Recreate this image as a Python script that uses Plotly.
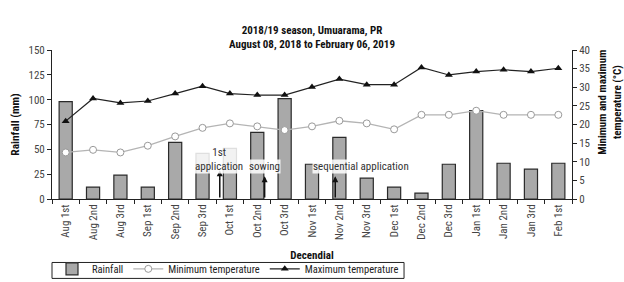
import plotly.graph_objects as go

categories = ["Aug 1st", "Aug 2nd", "Aug 3rd", "Sep 1st", "Sep 2nd", "Sep 3rd",
              "Oct 1st", "Oct 2nd", "Oct 3rd", "Nov 1st", "Nov 2nd", "Nov 3rd",
              "Dec 1st", "Dec 2nd", "Dec 3rd", "Jan 1st", "Jan 2nd", "Jan 3rd", "Feb 1st"]
rainfall = [98, 12, 24, 12, 57, 46, 51, 67, 101, 35, 62, 21, 12, 6, 35, 89, 36, 30, 36]
min_temp = [12.5, 13.2, 12.5, 14.3, 16.8, 19.1, 20.3, 19.5, 18.5, 19.5, 21.0, 20.3,
            18.7, 22.6, 22.6, 23.7, 22.6, 22.6, 22.6]
max_temp = [20.9, 27.0, 25.8, 26.3, 28.3, 30.3, 28.3, 27.9, 27.9, 30.1, 32.2, 30.7,
            30.7, 35.3, 33.3, 34.2, 34.7, 34.2, 35.1]

FONT = "Roboto Condensed, Liberation Sans Narrow, sans-serif"

fig = go.Figure()
fig.add_trace(go.Bar(x=categories, y=rainfall, name="Rainfall", width=0.48,
                     marker=dict(color="#a9a9a9", line=dict(color="#2a2a2a", width=1.2))))
fig.add_trace(go.Scatter(x=categories, y=min_temp, name="Minimum temperature", yaxis="y2",
                         mode="lines+markers",
                         line=dict(color="#b4b4b4", width=1.3),
                         marker=dict(symbol="circle", size=7, color="white",
                                     line=dict(color="#999999", width=1))))
fig.add_trace(go.Scatter(x=categories, y=max_temp, name="Maximum temperature", yaxis="y2",
                         mode="lines+markers",
                         line=dict(color="#222222", width=1.2),
                         marker=dict(symbol="triangle-up", size=7, color="#111111")))

# event annotations: (label, arrow x, arrow head y, text x, text y)
events = [("1st<br>application", 5.63, 29, 5.6, 39.5),
          ("sowing", 7.27, 23, 7.27, 32.3),
          ("sequential application", 9.85, 23, 10.78, 32.3)]
for lab, xa, yh, tx, ty in events:
    fig.add_annotation(x=xa, y=yh, ax=xa, ay=0, xref="x", yref="y", axref="x", ayref="y",
                       text="", showarrow=True, arrowhead=2, arrowsize=0.8,
                       arrowwidth=1.5, arrowcolor="#111111")
    fig.add_annotation(x=tx, y=ty, xref="x", yref="y", text=lab, showarrow=False,
                       bgcolor="rgba(255,255,255,0.85)", borderpad=0,
                       font=dict(family=FONT, size=11, color="#333333"))

# right axis title (placed above centre, as in the reference)
fig.add_annotation(x=1.0, y=0.65, xref="paper", yref="paper", xanchor="left", xshift=22,
                   yanchor="middle", textangle=-90, showarrow=False,
                   text="<b>Minimum and maximum<br>temperature (°C)</b>",
                   font=dict(family=FONT, size=11, color="#111111"))

# tight frame around the legend
fig.add_shape(type="rect", xref="paper", yref="paper", x0=0.0, x1=0.677, y0=-0.426, y1=-0.533,
              line=dict(color="#222222", width=1), fillcolor="rgba(0,0,0,0)", layer="above")

fig.update_layout(
    width=624, height=282,
    margin=dict(l=52, r=52, t=50, b=83, autoexpand=False),
    paper_bgcolor="white", plot_bgcolor="white",
    font=dict(family=FONT, size=11, color="#333333"),
    title=dict(text="<b>2018/19 season, Umuarama, PR<br>August 08, 2018 to February 06, 2019</b>",
               x=0.5, xanchor="center", y=0.88, yanchor="top",
               font=dict(family=FONT, size=11, color="#111111")),
    showlegend=True,
    legend=dict(orientation="h", x=0.0, y=-0.3715, xanchor="left", yanchor="top",
                borderwidth=0, bgcolor="rgba(0,0,0,0)",
                font=dict(family=FONT, size=10.5, color="#222222"),
                itemwidth=30, tracegroupgap=0),
    xaxis=dict(title=dict(text="<b>Decendial</b>", standoff=12,
                          font=dict(family=FONT, size=11, color="#111111")),
               tickangle=-90, showline=True, linecolor="#222222", linewidth=1,
               ticks="outside", tickson="boundaries", ticklen=4, tickcolor="#222222",
               showgrid=False, zeroline=False, range=[-0.5, 18.5],
               tickfont=dict(family=FONT, size=11, color="#444444")),
    yaxis=dict(title=dict(text="<b>Rainfall (mm)</b>", standoff=6,
                          font=dict(family=FONT, size=11.5, color="#111111")),
               range=[0, 150], dtick=25, showline=True, linecolor="#222222", linewidth=1,
               ticks="outside", ticklen=4, tickcolor="#222222", showgrid=False,
               zeroline=False, tickfont=dict(family=FONT, size=11, color="#444444")),
    yaxis2=dict(overlaying="y", side="right", range=[0, 40], dtick=5,
                showline=True, linecolor="#222222", linewidth=1,
                ticks="outside", ticklen=4, tickcolor="#222222", showgrid=False,
                zeroline=False, tickfont=dict(family=FONT, size=11, color="#444444")),
)

fig.write_html("out.html", config={"displayModeBar": False},
               post_script="document.body.style.margin='0';document.body.style.overflow='hidden';")
